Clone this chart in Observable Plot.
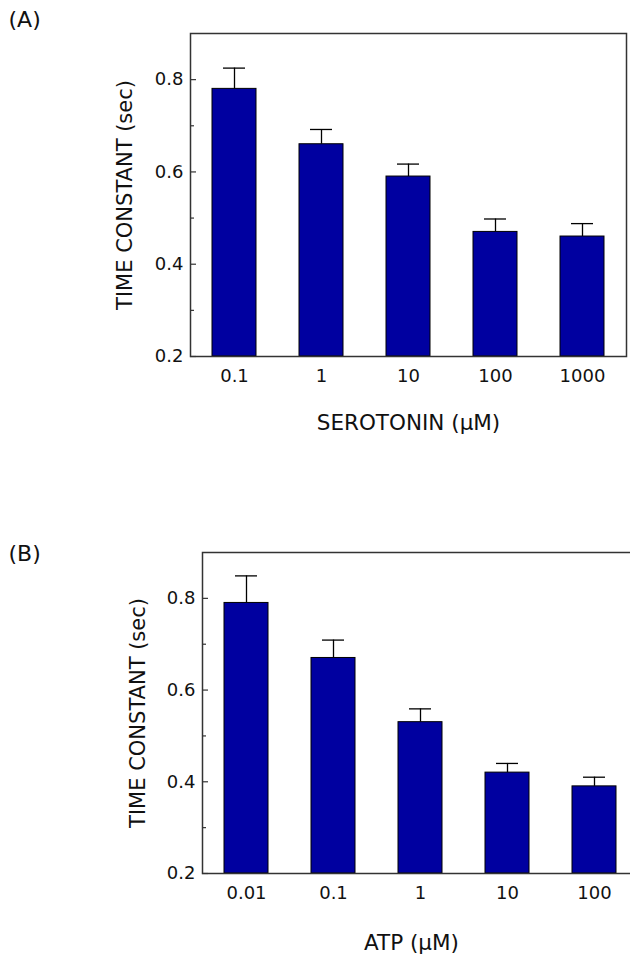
<!DOCTYPE html>
<html><head><meta charset="utf-8">
<script src="https://cdn.jsdelivr.net/npm/d3@7"></script>
<script src="https://cdn.jsdelivr.net/npm/@observablehq/plot@0.6"></script>
<style>
html,body{margin:0;padding:0;background:#fff;overflow:hidden;width:630px;height:954px;}
#wrap{position:relative;width:630px;height:954px;overflow:hidden;background:#fff;}
.panel{position:absolute;left:0;}
</style></head><body>
<div id="wrap"><div id="a" class="panel" style="top:0"></div><div id="b" class="panel" style="top:520px"></div></div>
<script>
// Panel A: serotonin
const serotoninConc = ["0.1", "1", "10", "100", "1000"];
const serotoninMean = [0.78, 0.66, 0.59, 0.47, 0.46];
const serotoninSem  = [0.045, 0.032, 0.027, 0.028, 0.028];
// Panel B: ATP
const atpConc = ["0.01", "0.1", "1", "10", "100"];
const atpMean = [0.79, 0.67, 0.53, 0.42, 0.39];
const atpSem  = [0.059, 0.039, 0.029, 0.02, 0.02];
// Axes
const yDomain = [0.2, 0.9];
const yBase = 0.2;
const majorTicks = [0.2, 0.4, 0.6, 0.8];
const minorTicks = [0.3, 0.5, 0.7];
const yTitle = "TIME CONSTANT (sec)";

const FONT = "'DejaVu Sans', Verdana, sans-serif";

function panel({conc, mean, sem, xTitle, tag, width, height, margins, titleDx, titleDy, yTitleDx, tagDx, tagDy}) {
  const rows = conc.map((c, i) => ({c, m: mean[i], hi: mean[i] + sem[i]}));
  return Plot.plot({
    width, height, ...margins,
    style: {fontFamily: FONT, background: "white", color: "#111", overflow: "visible", maxWidth: "none"},
    x: {type: "band", domain: conc, paddingInner: 0.5, paddingOuter: 0.25, axis: null},
    y: {domain: yDomain, axis: null},
    marks: [
      Plot.barY(rows, {x: "c", y1: yBase, y2: "m", fill: "#0000a0", stroke: "#000", strokeWidth: 1}),
      Plot.ruleX(rows, {x: "c", y1: "m", y2: "hi", stroke: "#000", strokeWidth: 1.3}),
      Plot.tickY(rows, {x: "c", y: "hi", insetLeft: 11, insetRight: 11, stroke: "#000", strokeWidth: 1.3}),
      Plot.axisX({tickSize: 0, tickPadding: 13, fontSize: 18, label: null}),
      Plot.axisY(majorTicks, {tickSize: 0, tickPadding: 7, fontSize: 18, label: null, tickFormat: d => d.toFixed(1)}),
      Plot.axisY(majorTicks, {tickSize: 6, dx: 6, text: null, label: null, stroke: "#333", strokeWidth: 1.2}),
      Plot.axisY(minorTicks, {tickSize: 4, dx: 4, text: null, label: null, stroke: "#333", strokeWidth: 1.2}),
      Plot.frame({stroke: "#333", strokeWidth: 1.5}),
      Plot.text([xTitle], {frameAnchor: "bottom", textAnchor: "middle", dy: titleDy, dx: titleDx, fontSize: 21.5, lineAnchor: "middle", fill: "#111"}),
      Plot.text([yTitle], {frameAnchor: "left", textAnchor: "middle", dx: yTitleDx, rotate: -90, fontSize: 21, lineAnchor: "middle", fill: "#111"}),
      Plot.text([tag], {frameAnchor: "top-left", textAnchor: "start", lineAnchor: "middle", dx: tagDx, dy: tagDy, fontSize: 22, fill: "#111"})
    ]
  });
}

document.getElementById("a").append(panel({
  conc: serotoninConc, mean: serotoninMean, sem: serotoninSem,
  xTitle: "SEROTONIN (\u03bcM)", tag: "(A)",
  width: 630, height: 440,
  margins: {marginLeft: 190, marginRight: 4, marginTop: 33, marginBottom: 84},
  titleDx: 0, titleDy: 67, yTitleDx: -65, tagDx: -182, tagDy: -14
}));

document.getElementById("b").append(panel({
  conc: atpConc, mean: atpMean, sem: atpSem,
  xTitle: "ATP (\u03bcM)", tag: "(B)",
  width: 650, height: 434,
  margins: {marginLeft: 202, marginRight: 12, marginTop: 32, marginBottom: 81},
  titleDx: -9, titleDy: 70, yTitleDx: -64, tagDx: -194, tagDy: 1
}));
</script>
</body></html>
